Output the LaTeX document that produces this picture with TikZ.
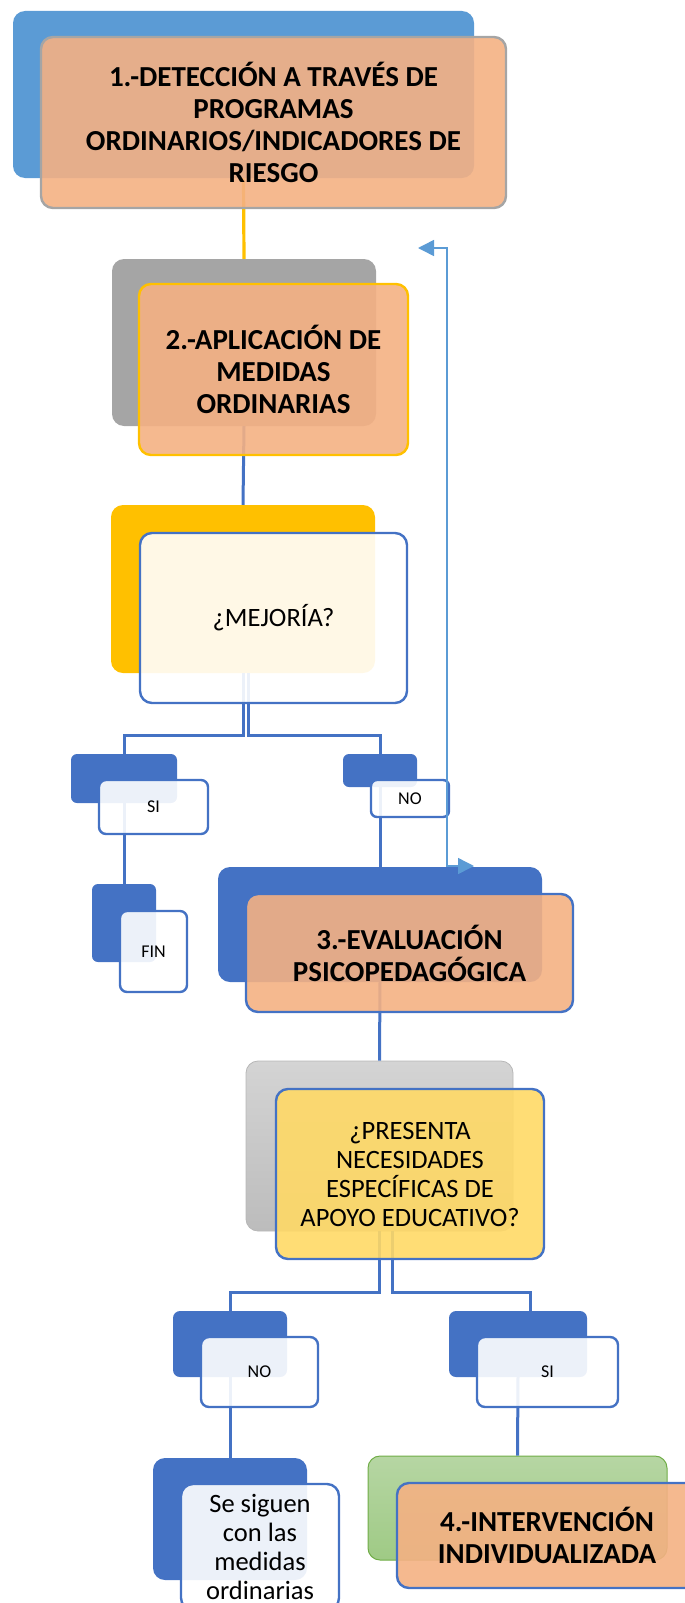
\documentclass[tikz,border=0pt]{standalone}
\usepackage{fontspec}
\setmainfont{Carlito}
\usetikzlibrary{arrows.meta}

\definecolor{accblue}{HTML}{4472C4}
\definecolor{skyblue}{HTML}{5B9BD5}
\definecolor{peach}{HTML}{F4B183}
\definecolor{gold}{HTML}{FFC000}
\definecolor{midgray}{HTML}{A5A5A5}
\definecolor{paleyellow}{HTML}{FFD966}
\definecolor{leafgreen}{HTML}{70AD47}
\definecolor{greentop}{HTML}{B6D6A3}
\definecolor{greenbot}{HTML}{9FCA85}
\definecolor{graytop}{HTML}{D4D4D4}
\definecolor{graybot}{HTML}{BCBCBC}

\tikzset{
  backbox/.style={rounded corners=12pt, inner sep=0pt},
  frontbox/.style={rounded corners=12pt, draw=accblue, line width=2.4pt,
    fill=white, fill opacity=0.9, text opacity=1, align=center, inner sep=0pt},
  bigtext/.style={font=\fontsize{29}{32}\selectfont\bfseries},
  plaintext/.style={font=\fontsize{26.5}{29}\selectfont},
  smalltext/.style={font=\fontsize{18}{20}\selectfont},
  linkline/.style={draw=accblue, line width=3pt},
}

\begin{document}
\begin{tikzpicture}[x=1pt,y=-1pt]

\def \stem {62}
\def \tip {Triangle[length=16pt,width=16pt]}

\useasboundingbox (0,0) rectangle (685,1603);

% back shapes
\node (b1back) [backbox, fill=skyblue, minimum width=461pt, minimum height=167pt] at (243.5,94.5) {};
\node (b2back) [backbox, fill=midgray, minimum width=264pt, minimum height=167pt] at (244,342.5) {};
\node (mejback) [backbox, fill=gold, minimum width=264pt, minimum height=168pt] at (243,589) {};
\node (siback) [backbox, rounded corners=6pt, fill=accblue, minimum width=106pt, minimum height=49pt] at (124,778.5) {};
\node (noback) [backbox, rounded corners=6pt, fill=accblue, minimum width=74pt, minimum height=33pt] at (380,770.5) {};
\node (finback) [backbox, rounded corners=6pt, fill=accblue, minimum width=64pt, minimum height=78pt] at (124,923) {};
\node (b3back) [backbox, fill=accblue, minimum width=324pt, minimum height=115pt] at (380,924.5) {};
\node (presback) [backbox, top color=graytop, bottom color=graybot, draw=midgray!80, line width=0.8pt, minimum width=267pt, minimum height=170pt] at (379.5,1146) {};
\node (no2back) [backbox, rounded corners=7pt, fill=accblue, minimum width=114pt, minimum height=66pt] at (230,1344) {};
\node (si2back) [backbox, rounded corners=7pt, fill=accblue, minimum width=138pt, minimum height=66pt] at (518,1344) {};
\node (sigback) [backbox, fill=accblue, minimum width=154pt, minimum height=122pt] at (230,1519) {};
\node (b4back) [backbox, top color=greentop, bottom color=greenbot, draw=leafgreen, line width=1pt, minimum width=299pt, minimum height=104pt] at (517.5,1508) {};

% connectors
\draw[linkline, draw=gold, line width=3.2pt] (b1back.south) -- (b2back.north);
\foreach \a/\b in {b2back/mejback, siback/finback, noback/b3back, b3back/presback, no2back/sigback, si2back/b4back}
  \draw[linkline] (\a.south) -- (\b.north);

\draw[linkline] (mejback.south) -- ++(0,\stem) -| (siback.north);
\draw[linkline] ([xshift=5pt]mejback.south) -- ++(0,\stem) -| (noback.north);
\draw[linkline] (presback.south) -- ++(0,61) -| (no2back.north);
\draw[linkline] ([xshift=13pt]presback.south) -- ++(0,61) -| ([xshift=12pt]si2back.north);

% front shapes
\node (b1) [frontbox, draw=midgray, fill=peach, bigtext, minimum width=465pt, minimum height=171pt] at (273.5,122.5)
  {1.-DETECCIÓN A TRAVÉS DE\\PROGRAMAS\\ORDINARIOS/INDICADORES DE\\RIESGO};
\node (b2) [frontbox, draw=gold, fill=peach, bigtext, minimum width=269pt, minimum height=171pt] at (273.5,369.5)
  {2.-APLICACIÓN DE\\MEDIDAS\\ORDINARIAS};
\node (mej) [frontbox, plaintext, minimum width=267pt, minimum height=170pt] at (273.5,618) {¿MEJORÍA?};
\node (si) [frontbox, rounded corners=7pt, smalltext, minimum width=109pt, minimum height=54pt] at (153.5,807) {SI};
\node (no) [frontbox, rounded corners=6pt, smalltext, minimum width=78pt, minimum height=37pt] at (410,798.5) {NO};
\node (fin) [frontbox, rounded corners=7pt, smalltext, minimum width=67pt, minimum height=81pt] at (153.5,951.5) {FIN};
\node (b3) [frontbox, fill=peach, bigtext, minimum width=327pt, minimum height=118pt] at (409.5,953)
  {3.-EVALUACIÓN\\PSICOPEDAGÓGICA};
\node (pres) [frontbox, fill=paleyellow, plaintext, minimum width=268pt, minimum height=170pt] at (410,1174)
  {¿PRESENTA\\NECESIDADES\\ESPECÍFICAS DE\\APOYO EDUCATIVO?};
\node (no2) [frontbox, rounded corners=8pt, smalltext, minimum width=117pt, minimum height=70pt] at (259.5,1372) {NO};
\node (si2) [frontbox, rounded corners=8pt, smalltext, minimum width=141pt, minimum height=70pt] at (547.5,1372) {SI};
\node (sig) [frontbox, plaintext, minimum width=158pt, minimum height=126pt] at (260,1547)
  {Se siguen\\con las\\medidas\\ordinarias};
\node (b4) [frontbox, fill=peach, bigtext, minimum width=300pt, minimum height=105pt] at (547,1535.5)
  {4.-INTERVENCIÓN\\INDIVIDUALIZADA};

% vuelta
\coordinate (fbtip) at (418,248);
\coordinate (fbturn) at (447,866);
\coordinate (fbend) at (474,866);
\draw[skyblue, line width=1.5pt, {\tip}-{\tip}] (fbtip) -| (fbturn) -- (fbend);

\end{tikzpicture}
\end{document}
